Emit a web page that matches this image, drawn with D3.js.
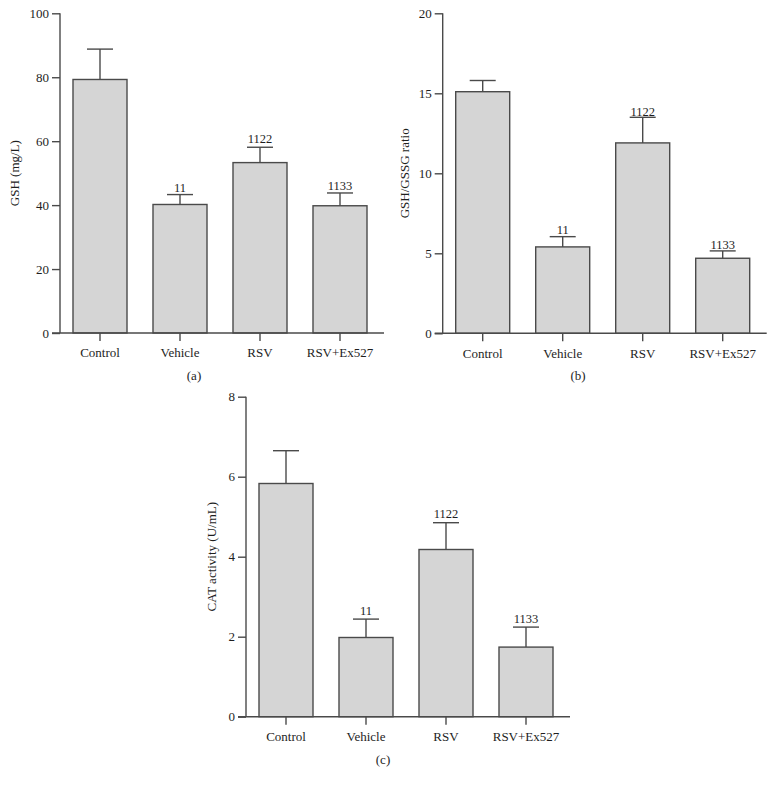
<!DOCTYPE html>
<html>
<head>
<meta charset="utf-8">
<script src="https://cdn.jsdelivr.net/npm/d3@7"></script>
<style>
  body { margin: 0; background: #fff; }
  svg text { font-family: "Liberation Serif", "Times New Roman", serif !important; fill: #1e1e1e; }
</style>
</head>
<body>
<svg id="chart" width="772" height="786"></svg>
<script>
// ---- data ----
const categories = ["Control", "Vehicle", "RSV", "RSV+Ex527"];

const gshValues = [79.3, 40.2, 53.3, 39.8];
const gshErrors = [9.5, 3.1, 4.8, 4.0];
const gshTicks = [0, 20, 40, 60, 80, 100];

const ratioValues = [15.1, 5.4, 11.9, 4.69];
const ratioErrors = [0.7, 0.64, 1.6, 0.46];
const ratioTicks = [0, 5, 10, 15, 20];

const catValues = [5.83, 1.98, 4.18, 1.74];
const catErrors = [0.82, 0.46, 0.67, 0.50];
const catTicks = [0, 2, 4, 6, 8];

const annotations = ["", "11", "1122", "1133"];

const yLabels = ["GSH (mg/L)", "GSH/GSSG ratio", "CAT activity (U/mL)"];
const panelLabels = ["(a)", "(b)", "(c)"];

// ---- layout ----
const panels = [
  { values: gshValues, errors: gshErrors, ticks: gshTicks, max: 100,
    x0: 60, y0: 333, y1: 13.3, ylabel: yLabels[0], plabel: panelLabels[0],
    ylabX: 15, plabX: 194, plabY: 380, annOff: [0, 3, 4, 3] },
  { values: ratioValues, errors: ratioErrors, ticks: ratioTicks, max: 20,
    x0: 442.7, y0: 333.3, y1: 13.3, ylabel: yLabels[1], plabel: panelLabels[1],
    ylabX: 405, plabX: 578, plabY: 380, annOff: [0, 3, 1, 2] },
  { values: catValues, errors: catErrors, ticks: catTicks, max: 8,
    x0: 246, y0: 716.7, y1: 396.7, ylabel: yLabels[2], plabel: panelLabels[2],
    ylabX: 212, plabX: 383, plabY: 764, annOff: [0, 4, 5, 4] }
];

const svg = d3.select("#chart");
const strokeCol = "#4a4a4a";
const fillCol = "#d5d5d5";
const textCol = "#1e1e1e";
const serif = "Liberation Serif, Times New Roman, serif";

panels.forEach(p => {
  const g = svg.append("g");
  const x = d3.scaleBand().domain(categories)
    .range([p.x0, p.x0 + 320]).paddingInner(0.325).paddingOuter(0.1625);
  const y = d3.scaleLinear().domain([0, p.max]).range([p.y0, p.y1]);

  // bars
  g.selectAll("rect.bar").data(categories).join("rect")
    .attr("x", d => x(d))
    .attr("y", (d, i) => y(p.values[i]))
    .attr("width", x.bandwidth())
    .attr("height", (d, i) => p.y0 - y(p.values[i]))
    .attr("fill", fillCol).attr("stroke", strokeCol).attr("stroke-width", 1.4);

  // error bars
  categories.forEach((c, i) => {
    const cx = x(c) + x.bandwidth() / 2;
    const top = y(p.values[i] + p.errors[i]);
    g.append("line").attr("x1", cx).attr("x2", cx)
      .attr("y1", y(p.values[i])).attr("y2", top)
      .attr("stroke", strokeCol).attr("stroke-width", 1.4);
    g.append("line").attr("x1", cx - 13).attr("x2", cx + 13)
      .attr("y1", top).attr("y2", top)
      .attr("stroke", strokeCol).attr("stroke-width", 1.4);
    if (annotations[i]) {
      g.append("text").attr("x", cx).attr("y", top - p.annOff[i])
        .attr("text-anchor", "middle").attr("font-size", 12.5)
        .attr("font-family", serif).attr("fill", textCol)
        .text(annotations[i]);
    }
  });

  // y axis
  const yAxis = d3.axisLeft(y).tickValues(p.ticks).tickSize(8).tickPadding(3)
    .tickFormat(d3.format("d"));
  const ya = g.append("g").attr("transform", `translate(${p.x0},0)`).call(yAxis)
    .attr("font-family", serif).attr("font-size", 13);
  ya.select(".domain").attr("stroke", strokeCol).attr("stroke-width", 1.4)
    .attr("d", `M0,${p.y1}V${p.y0}`);
  ya.selectAll(".tick line").attr("stroke", strokeCol).attr("stroke-width", 1.4);
  ya.selectAll(".tick text").attr("fill", textCol);

  // x axis
  const xAxis = d3.axisBottom(x).tickSize(8).tickPadding(7).tickSizeOuter(0);
  const xa = g.append("g").attr("transform", `translate(0,${p.y0})`).call(xAxis)
    .attr("font-family", serif).attr("font-size", 13);
  xa.select(".domain").attr("stroke", strokeCol).attr("stroke-width", 1.4)
    .attr("d", `M${p.x0 - 8},0H${p.x0 + 324}`);
  xa.selectAll(".tick line").attr("stroke", strokeCol).attr("stroke-width", 1.4);
  xa.selectAll(".tick text").attr("fill", textCol);

  // y label
  g.append("text")
    .attr("transform", `translate(${p.ylabX + 4},${(p.y0 + p.y1) / 2}) rotate(-90)`)
    .attr("text-anchor", "middle").attr("font-size", 13)
    .attr("font-family", serif).attr("fill", textCol)
    .text(p.ylabel);

  // panel label
  g.append("text").attr("x", p.plabX).attr("y", p.plabY)
    .attr("text-anchor", "middle").attr("font-size", 13)
    .attr("font-family", serif).attr("fill", textCol)
    .text(p.plabel);
});
</script>
</body>
</html>
